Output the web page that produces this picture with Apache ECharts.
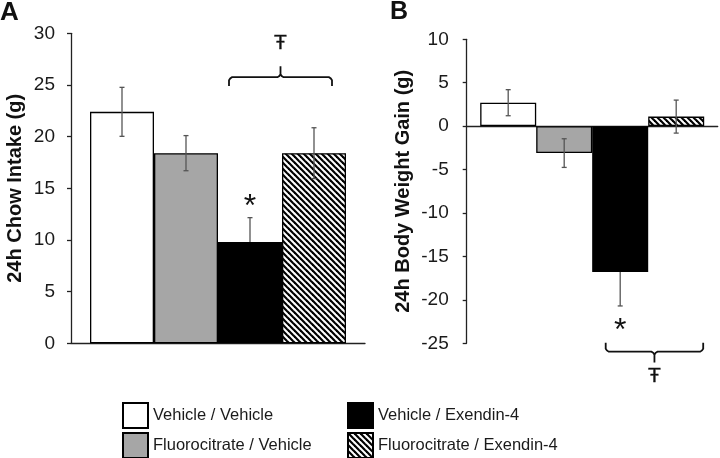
<!DOCTYPE html>
<html>
<head>
<meta charset="utf-8">
<script src="https://cdn.jsdelivr.net/npm/echarts@6/dist/echarts.min.js"></script>
<style>html,body{margin:0;padding:0;background:#fff;}#c{width:720px;height:458px;}</style>
</head>
<body>
<div id="c"></div>
<script>
// ---- data ----
const groups = ['Vehicle / Vehicle', 'Fluorocitrate / Vehicle', 'Vehicle / Exendin-4', 'Fluorocitrate / Exendin-4'];
const chowMean = [22.4, 18.4, 9.8, 18.4];
const chowSEM = [2.37, 1.7, 2.36, 2.46];
const gainMean = [2.7, -3.1, -16.8, 1.1];
const gainSEM = [1.5, 1.65, 3.9, 1.9];
const chowAxis = { min: 0, max: 30, interval: 5 };
const gainAxis = { min: -25, max: 10, interval: 5 };
const chowTitle = '24h Chow Intake (g)';
const gainTitle = '24h Body Weight Gain (g)';

// ---- styles ----
const FONT = '"Liberation Sans", Arial, sans-serif';
function hatch() {
  const s = 6, c = document.createElement('canvas');
  c.width = s; c.height = s;
  const g = c.getContext('2d');
  g.fillStyle = '#fff'; g.fillRect(0, 0, s, s);
  g.strokeStyle = '#000'; g.lineWidth = 2.2;
  for (const k of [-1, 0, 1]) {
    g.beginPath(); g.moveTo(k * s - 1, -1); g.lineTo(k * s + s + 1, s + 1); g.stroke();
  }
  return c;
}
const fills = ['#ffffff', '#a6a6a6', '#000000', { image: hatch(), repeat: 'repeat' }];
const BW = [64, 56];

const chart = echarts.init(document.getElementById('c'), null, { renderer: 'canvas' });

function yAxisCfg(gi, ax, title, gap, margin) {
  return {
    type: 'value', gridIndex: gi, min: ax.min, max: ax.max, interval: ax.interval,
    name: title, nameLocation: 'middle', nameGap: gap,
    nameTextStyle: { fontFamily: FONT, fontSize: 20, fontWeight: 'bold', color: '#111' },
    axisLine: { show: true, lineStyle: { color: '#222', width: 1.3 } },
    axisTick: { show: true, length: 4, lineStyle: { color: '#222', width: 1.3 } },
    axisLabel: { fontFamily: FONT, fontSize: 19, color: '#1a1a1a', margin },
    splitLine: { show: false }
  };
}
function xAxisCfg(gi) {
  return {
    type: 'category', gridIndex: gi, data: [''],
    axisLine: { show: true, onZero: true, lineStyle: { color: '#222', width: 1.3 } },
    axisTick: { show: false }, axisLabel: { show: false }, splitLine: { show: false }
  };
}

const series = [];
[[chowMean, chowSEM], [gainMean, gainSEM]].forEach(([means, sems], gi) => {
  groups.forEach((name, i) => {
    series.push({
      type: 'bar', name, xAxisIndex: gi, yAxisIndex: gi,
      data: [means[i]], barWidth: BW[gi], barGap: '0%',
      itemStyle: { color: fills[i], borderColor: '#000', borderWidth: 1.3 },
      emphasis: { disabled: true }
    });
  });
  // error bars (the half that lies over a solid black bar is not visible)
  series.push({
    type: 'custom', xAxisIndex: gi, yAxisIndex: gi, z: 5, silent: true,
    data: means.map((m, i) => [0, m, sems[i], i]),
    renderItem(params, api) {
      const m = api.value(1), e = api.value(2), idx = api.value(3);
      const x = api.coord([0, m])[0] + (idx - 1.5) * BW[gi];
      const yM = api.coord([0, m])[1];
      const yOut = api.coord([0, m >= 0 ? m + e : m - e])[1];
      const yIn = api.coord([0, m >= 0 ? m - e : m + e])[1];
      const st = { stroke: '#555', lineWidth: 1.3 };
      const kids = [
        { type: 'line', shape: { x1: x, y1: yM, x2: x, y2: yOut }, style: st },
        { type: 'line', shape: { x1: x - 2.5, y1: yOut, x2: x + 2.5, y2: yOut }, style: st }
      ];
      if (fills[idx] !== '#000000') {
        kids.push({ type: 'line', shape: { x1: x, y1: yM, x2: x, y2: yIn }, style: st });
        kids.push({ type: 'line', shape: { x1: x - 2.5, y1: yIn, x2: x + 2.5, y2: yIn }, style: st });
      }
      return { type: 'group', children: kids };
    }
  });
});

// annotations (asterisk, bracket, symbol), anchored to axes
function bracket(xl, xr, yH, yEnd, yTick) {
  const d = yEnd > yH ? 1 : -1, r = 3, xm = (xl + xr) / 2;
  return [
    [xl, yEnd], [xl, yH + d * r], [xl + r * 0.4, yH + d * r * 0.4], [xl + r, yH],
    [xm - r, yH], [xm - r * 0.4, yH - d * r * 0.4], [xm, yH - d * r], [xm, yTick],
    [xm, yH - d * r], [xm + r * 0.4, yH - d * r * 0.4], [xm + r, yH],
    [xr - r, yH], [xr - r * 0.4, yH + d * r * 0.4], [xr, yH + d * r], [xr, yEnd]
  ];
}
function annot(gi, starV, brH, brEnd, brTick, symV, dl, dr) {
  return {
    type: 'custom', xAxisIndex: gi, yAxisIndex: gi, z: 6, silent: true, data: [[0, 0]],
    renderItem(params, api) {
      const c0 = api.coord([0, 0])[0];
      const cx = i => c0 + (i - 1.5) * BW[gi];
      const y = v => api.coord([0, v])[1];
      const xl = cx(2) + dl, xr = cx(3) + dr, xm = (xl + xr) / 2;
      return { type: 'group', children: [
        { type: 'text', style: { text: '*', x: cx(2), y: y(starV) + 8, fontSize: 32, fontFamily: FONT, fill: '#111', align: 'center', verticalAlign: 'middle' } },
        { type: 'polyline', shape: { points: bracket(xl, xr, y(brH), y(brEnd), y(brTick)) }, style: { stroke: '#111', lineWidth: 1.8, fill: null } },
        { type: 'text', style: { text: 'Ŧ', x: xm, y: y(symV), fontSize: 21, fontFamily: FONT, fill: '#111', align: 'center', verticalAlign: 'middle', stroke: '#111', lineWidth: 0.3 } }
      ] };
    }
  };
}
series.push(annot(0, 13.9, 25.75, 24.9, 26.8, 29.05, -21, 18));
series.push(annot(1, -22.66, -25.96, -24.93, -27.2, -28.84, -14.5, 27));

const legendBase = {
  itemWidth: 25, itemHeight: 25, icon: 'rect', selectedMode: false,
  textStyle: { fontFamily: FONT, fontSize: 16.5, color: '#1a1a1a' }
};
const legendPos = [[117, 397], [117, 427], [342, 397], [342, 427]];

chart.setOption({
  animation: false,
  backgroundColor: '#fff',
  grid: [
    { left: 71, top: 33.3, width: 294, height: 310 },
    { left: 466.7, top: 39.3, width: 251, height: 304 }
  ],
  xAxis: [xAxisCfg(0), xAxisCfg(1)],
  yAxis: [yAxisCfg(0, chowAxis, chowTitle, 46, 16), yAxisCfg(1, gainAxis, gainTitle, 53.5, 18)],
  legend: groups.map((g, i) => Object.assign({}, legendBase, { left: legendPos[i][0], top: legendPos[i][1], data: [g] })),
  graphic: [
    { type: 'text', left: 0, top: 0, style: { text: 'A', fontFamily: FONT, fontSize: 26, fontWeight: 'bold', fill: '#111' } },
    { type: 'text', left: 390, top: 0, style: { text: 'B', fontFamily: FONT, fontSize: 25, fontWeight: 'bold', fill: '#111' } }
  ],
  series
});
</script>
</body>
</html>
